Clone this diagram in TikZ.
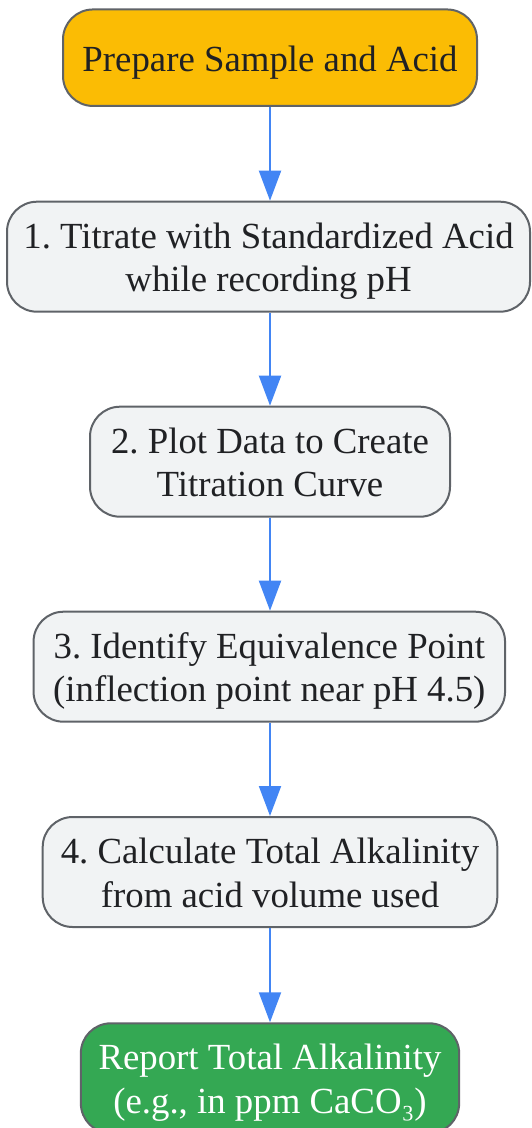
\documentclass[tikz,border=0pt]{standalone}
\usepackage{fontspec}
\setmainfont{Liberation Serif}
\frenchspacing
\usetikzlibrary{arrows.meta}

\definecolor{stepfill}{HTML}{F1F3F4}
\definecolor{stepline}{HTML}{5F6368}
\definecolor{startfill}{HTML}{FBBC04}
\definecolor{endfill}{HTML}{34A853}
\definecolor{flowblue}{HTML}{4285F4}
\definecolor{inkgray}{HTML}{202124}

% puntales para fijar la posición vertical del texto
\newcommand{\lnup}{\rule{0pt}{34.7pt}}
\newcommand{\lndown}{\rule[-8.1pt]{0pt}{0pt}}

\tikzset{
  stepbox/.style={draw=stepline, line width=2pt, fill=stepfill, rounded corners=30pt,
    text=inkgray, align=center, inner sep=0pt, minimum height=110pt,
    font=\fontsize{36.8}{43.5}\selectfont},
  startbox/.style={stepbox, fill=startfill, minimum height=96.5pt},
  endbox/.style={stepbox, fill=endfill, text=white},
  flow/.style={draw=flowblue, line width=2pt, -{Triangle[width=22pt,length=30pt]}, flowblue}
}

\begin{document}
\begin{tikzpicture}[x=1pt, y=-1pt]

    % 1. Marco (proporciones de la referencia)
    \useasboundingbox (0,0) rectangle (531,1128);

    % 2. Cajas del procedimiento
    \node[startbox, minimum width=414pt] (prep) at (270,57.7)
        {\lnup Prepare Sample and Acid\lndown};
    \node[stepbox, minimum width=523pt] (titrate) at (268.5,256.7)
        {\lnup 1. Titrate with Standardized Acid\\while recording pH\lndown};
    \node[stepbox, minimum width=360pt] (plot) at (270,461.7)
        {\lnup 2. Plot Data to Create\\Titration Curve\lndown};
    \node[stepbox, minimum width=471.5pt] (equiv) at (269.3,666.7)
        {\lnup 3. Identify Equivalence Point\\(inflection point near pH 4.5)\lndown};
    \node[stepbox, minimum width=454.6pt] (calc) at (270,872)
        {\lnup 4. Calculate Total Alkalinity\\from acid volume used\lndown};
    \node[endbox, minimum width=378.3pt] (report) at (270,1078.3)
        {\lnup Report Total Alkalinity\\(e.g., in ppm CaCO₃)\lndown};

    % 3. Flechas entre pasos
    \draw[flow] (prep.south) -- (prep.south |- titrate.north);
    \draw[flow] (titrate.south -| plot.north) -- (plot.north);
    \draw[flow] (plot.south) -- (plot.south |- equiv.north);
    \draw[flow] (equiv.south -| calc.north) -- (calc.north);
    \draw[flow] (calc.south) -- (report.north);

\end{tikzpicture}
\end{document}
